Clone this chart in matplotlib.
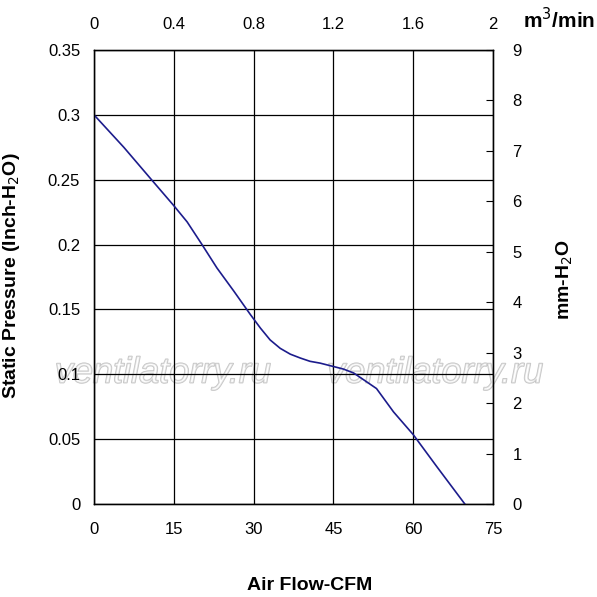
import matplotlib
matplotlib.use('Agg')
import matplotlib.pyplot as plt
import matplotlib.patheffects as pe

plt.rcParams['font.family'] = ['Liberation Sans', 'DejaVu Sans']

# Curve (CFM vs inch-H2O)
airflow_cfm = [0, 5.6, 10.6, 15, 17.5, 20.3, 23.1, 26.3, 29.4, 31.3, 33.1,
               35.0, 36.9, 38.8, 40.6, 42.5, 45, 46.9, 48.8, 50.6, 53.1,
               56.3, 60, 64.4, 69.7]
pressure_inch = [0.300, 0.275, 0.251, 0.230, 0.2175, 0.200, 0.182, 0.164,
                 0.146, 0.1355, 0.1265, 0.120, 0.1155, 0.1125, 0.110, 0.1086,
                 0.106, 0.104, 0.101, 0.096, 0.089, 0.071, 0.0535, 0.029, 0.0]

cfm_ticks = [0, 15, 30, 45, 60, 75]
inch_ticks = [0, 0.05, 0.1, 0.15, 0.2, 0.25, 0.3, 0.35]
inch_labels = ['0', '0.05', '0.1', '0.15', '0.2', '0.25', '0.3', '0.35']
m3_ticks = [0, 0.4, 0.8, 1.2, 1.6, 2]
m3_labels = ['0', '0.4', '0.8', '1.2', '1.6', '2']
mm_ticks = list(range(10))

fig = plt.figure(figsize=(5.97, 5.97), dpi=100)
ax = fig.add_axes([0.1575, 0.1558, 0.6683, 0.7604])

ax.plot(airflow_cfm, pressure_inch, color='#1c1c8c', lw=1.2,
        solid_joinstyle='round', zorder=3)
ax.set_xlim(0, 75)
ax.set_ylim(0, 0.35)
ax.set_xticks(cfm_ticks)
ax.set_yticks(inch_ticks)
ax.set_yticklabels(inch_labels)
ax.grid(True, color='black', lw=0.9)
ax.tick_params(length=0, labelsize=12)
ax.tick_params(axis='y', pad=10)
ax.tick_params(axis='x', pad=13)
for s in ax.spines.values():
    s.set_linewidth(1.0)

# watermark (outlined), under the grid and tick labels
for xw in [0.273, 0.729]:
    ax.text(xw, 0.375, 'ventilatorry.ru', transform=fig.transFigure,
            ha='center', va='center', fontsize=26, style='italic',
            color=(1, 1, 1, 0.5), clip_on=False, zorder=1,
            path_effects=[pe.Stroke(linewidth=1.1, foreground='#c4c4c4'),
                          pe.Normal()])

# right axis in mm-H2O
ax_r = ax.twinx()
ax_r.set_ylim(0, 9)
ax_r.set_yticks(mm_ticks)
ax_r.tick_params(axis='y', direction='in', length=5, width=0.8, pad=14, labelsize=12)

# top axis in m3/min
ax_t = ax.twiny()
ax_t.set_xlim(0, 2)
ax_t.set_xticks(m3_ticks)
ax_t.set_xticklabels(m3_labels)
ax_t.tick_params(axis='x', length=0, pad=13, labelsize=12)

fig.text(0.02, 0.539, 'Static Pressure (Inch-H$_2$O)', rotation=90,
         ha='center', va='center', fontsize=14, fontweight='bold')
fig.text(0.946, 0.531, 'mm-H$_2$O', rotation=90,
         ha='center', va='center', fontsize=14, fontweight='bold')
fig.text(0.519, 0.02, 'Air Flow-CFM', ha='center', va='center',
         fontsize=14, fontweight='bold')
fig.text(0.937, 0.968, 'm$^3$/min', ha='center', va='center',
         fontsize=15, fontweight='bold')

plt.savefig('out.png', dpi=100)
plt.close()
